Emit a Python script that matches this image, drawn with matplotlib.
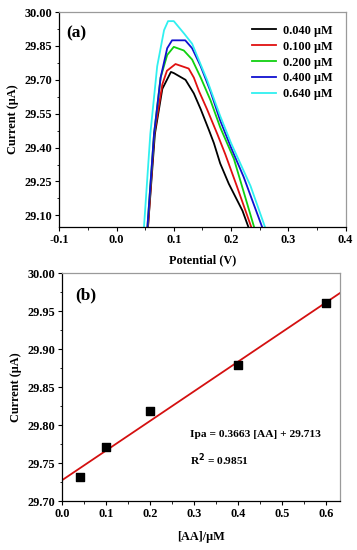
import matplotlib
matplotlib.use("Agg")
import matplotlib.pyplot as plt
import numpy as np
from matplotlib.ticker import MultipleLocator, FormatStrFormatter

plt.rcParams['font.family'] = ['Liberation Serif', 'DejaVu Serif']
plt.rcParams['font.weight'] = 'bold'
plt.rcParams['font.size'] = 8.8

# panel (a): DPV curves, potential (V) vs current (uA)
labels_a = ['0.040 μM', '0.100 μM', '0.200 μM', '0.400 μM', '0.640 μM']
colors_a = ['#000000', '#e01010', '#10d010', '#1010d0', '#30f0f0']

x_black = [0.055, 0.067, 0.080, 0.095, 0.100, 0.1205, 0.135, 0.147, 0.161, 0.170, 0.181, 0.196, 0.210, 0.220, 0.230]
y_black = [29.05, 29.46, 29.66, 29.735, 29.73, 29.70, 29.64, 29.57, 29.48, 29.42, 29.33, 29.24, 29.17, 29.12, 29.05]

x_red = [0.055, 0.066, 0.080, 0.088, 0.103, 0.126, 0.135, 0.144, 0.158, 0.176, 0.190, 0.210, 0.235]
y_red = [29.05, 29.46, 29.68, 29.74, 29.77, 29.75, 29.71, 29.65, 29.57, 29.46, 29.37, 29.23, 29.05]

x_green = [0.054, 0.0655, 0.077, 0.0885, 0.100, 0.1175, 0.132, 0.147, 0.164, 0.181, 0.205, 0.240]
y_green = [29.05, 29.46, 29.71, 29.81, 29.846, 29.83, 29.79, 29.71, 29.61, 29.49, 29.35, 29.05]

x_blue = [0.054, 0.0655, 0.077, 0.0885, 0.097, 0.120, 0.132, 0.147, 0.164, 0.181, 0.200, 0.222, 0.254]
y_blue = [29.05, 29.46, 29.71, 29.84, 29.875, 29.875, 29.84, 29.76, 29.65, 29.52, 29.40, 29.27, 29.05]

x_cyan = [0.048, 0.059, 0.071, 0.083, 0.090, 0.100, 0.118, 0.132, 0.158, 0.181, 0.200, 0.234, 0.259]
y_cyan = [29.05, 29.46, 29.76, 29.92, 29.96, 29.96, 29.905, 29.86, 29.70, 29.54, 29.42, 29.23, 29.05]

curves_x = [x_black, x_red, x_green, x_blue, x_cyan]
curves_y = [y_black, y_red, y_green, y_blue, y_cyan]

# panel (b): calibration
conc = [0.04, 0.1, 0.2, 0.4, 0.6]
ipa = [29.731, 29.771, 29.819, 29.879, 29.960]
eq_text = 'Ipa = 0.3663 [AA] + 29.713'
r2_text = 'R$^\\mathbf{2}$ = 0.9851'

fig = plt.figure(figsize=(3.57, 5.5), dpi=100)
ax1 = fig.add_axes([0.166, 0.588, 0.802, 0.390])
ax2 = fig.add_axes([0.174, 0.089, 0.779, 0.4145])


def style(ax):
    for s in ['left', 'bottom']:
        ax.spines[s].set_color('black')
    for s in ['top', 'right']:
        ax.spines[s].set_color('#9a9a9a')
    for s in ax.spines.values():
        s.set_linewidth(0.9)
    ax.tick_params(which='major', direction='out', length=3, width=0.8, pad=2)
    ax.tick_params(which='minor', direction='out', length=1.8, width=0.6)


for xs, ys, c, lab in zip(curves_x, curves_y, colors_a, labels_a):
    ax1.plot(xs, ys, color=c, lw=1.3, label=lab)
ax1.set_xlim(-0.1, 0.4)
ax1.set_ylim(29.05, 30.0)
ax1.xaxis.set_major_locator(MultipleLocator(0.1))
ax1.xaxis.set_minor_locator(MultipleLocator(0.05))
ax1.xaxis.set_major_formatter(FormatStrFormatter('%.1f'))
ax1.set_yticks([29.10, 29.25, 29.40, 29.55, 29.70, 29.85, 30.00])
ax1.set_yticks(np.arange(29.175, 30.0, 0.15), minor=True)
ax1.yaxis.set_major_formatter(FormatStrFormatter('%.2f'))
ax1.set_xlabel('Potential (V)', fontweight='bold', labelpad=6)
ax1.set_ylabel('Current (μA)', fontweight='bold', labelpad=4)
ax1.text(-0.088, 29.905, '(a)', fontsize=12.5, fontweight='bold', va='center')
style(ax1)
ax1.legend(loc='upper left', bbox_to_anchor=(0.705, 0.955), bbox_transform=fig.transFigure,
           frameon=False, borderpad=0, borderaxespad=0, handlelength=2.0,
           handletextpad=0.55, labelspacing=0.32, fontsize=8.8)

slope, intercept = np.polyfit(conc, ipa, 1)
xfit = np.array([0.0, 0.66])
ax2.plot(xfit, slope * xfit + intercept, color='#d41010', lw=1.3)
ax2.scatter(conc, ipa, marker='s', s=34, color='black', zorder=3)
ax2.set_xlim(0.0, 0.632)
ax2.set_ylim(29.70, 30.00)
ax2.xaxis.set_major_locator(MultipleLocator(0.1))
ax2.xaxis.set_minor_locator(MultipleLocator(0.05))
ax2.xaxis.set_major_formatter(FormatStrFormatter('%.1f'))
ax2.yaxis.set_major_locator(MultipleLocator(0.05))
ax2.yaxis.set_minor_locator(MultipleLocator(0.025))
ax2.yaxis.set_major_formatter(FormatStrFormatter('%.2f'))
ax2.set_xlabel('[AA]/μM', fontweight='bold', labelpad=8)
ax2.set_ylabel('Current (μA)', fontweight='bold', labelpad=4)
ax2.text(0.03, 29.971, '(b)', fontsize=12.5, fontweight='bold', va='center')
ax2.text(0.291, 29.787, eq_text, fontsize=8.2, fontweight='bold', va='center')
ax2.text(0.291, 29.754, r2_text, fontsize=8.2, fontweight='bold', va='center')
style(ax2)

fig.savefig('out.png', dpi=100)
